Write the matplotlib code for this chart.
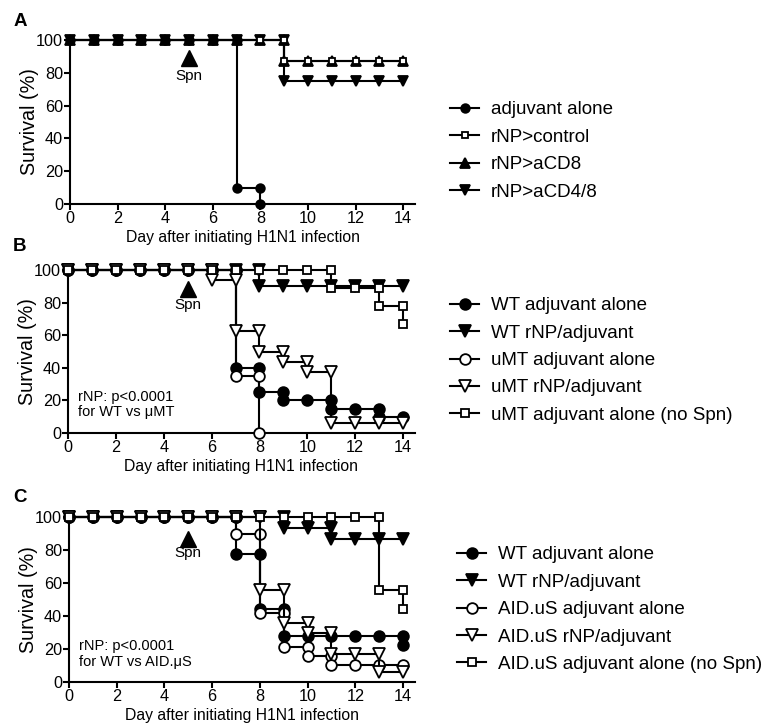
import matplotlib
matplotlib.use('Agg')
import matplotlib.pyplot as plt
from matplotlib.lines import Line2D

plt.rcParams['font.family'] = ['Liberation Sans', 'DejaVu Sans']

# ---------------- data (survival % at each day, day index = position) ----------------
xticks = [0, 2, 4, 6, 8, 10, 12, 14]
yticks = [0, 20, 40, 60, 80, 100]

# Panel A
a_labels = ['adjuvant alone', 'rNP>control', 'rNP>aCD8', 'rNP>aCD4/8']
a_adjuvant = [100, 100, 100, 100, 100, 100, 100, 10, 0]
a_control = [100, 100, 100, 100, 100, 100, 100, 100, 100, 87.5, 87.5, 87.5, 87.5, 87.5, 87.5]
a_cd8 = [100, 100, 100, 100, 100, 100, 100, 100, 100, 87.5, 87.5, 87.5, 87.5, 87.5, 87.5]
a_cd48 = [100, 100, 100, 100, 100, 100, 100, 100, 100, 75, 75, 75, 75, 75, 75]

# Panel B
b_labels = ['WT adjuvant alone', 'WT rNP/adjuvant', 'uMT adjuvant alone',
            'uMT rNP/adjuvant', 'uMT adjuvant alone (no Spn)']
b_wt_adj = [100, 100, 100, 100, 100, 100, 100, 40, 25, 20, 20, 15, 15, 10, 10]
b_wt_rnp = [100, 100, 100, 100, 100, 100, 100, 100, 90, 90, 90, 90, 90, 90, 90]
b_umt_adj = [100, 100, 100, 100, 100, 100, 100, 35, 0]
b_umt_rnp = [100, 100, 100, 100, 100, 100, 93.75, 62.5, 50, 43.75, 37.5, 6.25, 6.25, 6.25, 6.25]
b_umt_nospn = [100, 100, 100, 100, 100, 100, 100, 100, 100, 100, 100, 88.9, 88.9, 77.8, 66.7]

# Panel C
c_labels = ['WT adjuvant alone', 'WT rNP/adjuvant', 'AID.uS adjuvant alone',
            'AID.uS rNP/adjuvant', 'AID.uS adjuvant alone (no Spn)']
c_wt_adj = [100, 100, 100, 100, 100, 100, 100, 77.8, 44.4, 27.8, 27.8, 27.8, 27.8, 27.8, 22.2]
c_wt_rnp = [100, 100, 100, 100, 100, 100, 100, 100, 100, 93.3, 93.3, 86.7, 86.7, 86.7, 86.7]
c_aid_adj = [100, 100, 100, 100, 100, 100, 100, 89.5, 42.1, 21.1, 15.8, 10.5, 10.5, 10.5, 10.5]
c_aid_rnp = [100, 100, 100, 100, 100, 100, 100, 100, 56, 36, 30, 17, 17, 6, 6]
c_aid_nospn = [100, 100, 100, 100, 100, 100, 100, 100, 100, 100, 100, 100, 100, 55.6, 44.4]

b_note = 'rNP: p<0.0001\nfor WT vs μMT'
c_note = 'rNP: p<0.0001\nfor WT vs AID.μS'
xlabel = 'Day after initiating H1N1 infection'
ylabel = 'Survival (%)'


def step_path(vals):
    """Kaplan-Meier style path: a vertical drop at each day where survival changes."""
    xs, ys = [0], [vals[0]]
    for d in range(1, len(vals)):
        if vals[d] != vals[d - 1]:
            xs.append(d)
            ys.append(vals[d - 1])
        xs.append(d)
        ys.append(vals[d])
    return xs, ys


W, H = 766, 724
fig = plt.figure(figsize=(W / 100, H / 100), dpi=100)

LW = 1.5


def make_axes(top, bottom, left=70, right=415):
    return fig.add_axes([left / W, 1 - bottom / H, (right - left) / W, (bottom - top) / H])


def style_axes(ax):
    ax.set_xlim(0, 14.5)
    ax.set_ylim(0, 100)
    ax.set_xticks(xticks)
    ax.set_yticks(yticks)
    for s in ['top', 'right']:
        ax.spines[s].set_visible(False)
    for s in ['left', 'bottom']:
        ax.spines[s].set_linewidth(1.5)
    ax.tick_params(direction='out', length=4, width=1.5, labelsize=11.7, pad=1)
    ax.set_xlabel(xlabel, fontsize=11.3, labelpad=3)
    ax.set_ylabel(ylabel, fontsize=14.2, labelpad=-2)


def draw(ax, vals, marker, ms, face, z):
    xs, ys = step_path(vals)
    ax.plot(xs, ys, color='black', lw=LW, marker=marker, ms=ms, mfc=face,
            mec='black', mew=1.3, clip_on=False, zorder=z)
    return Line2D([], [], color='black', lw=LW, marker=marker, ms=ms, mfc=face,
                  mec='black', mew=1.3)


def spn(ax, ytri, ytxt):
    ax.plot([5], [ytri], marker='^', ms=11, color='black', zorder=10, clip_on=False)
    ax.text(5, ytxt, 'Spn', ha='center', va='center', fontsize=11)


def legend(ax, handles, labels, ycenter, xleft=450):
    ax.legend(handles, labels, loc='center left',
              bbox_to_anchor=(xleft / W, 1 - ycenter / H), bbox_transform=fig.transFigure,
              frameon=False, fontsize=13.5, handlelength=1.55, handletextpad=0.62,
              labelspacing=0.55, borderpad=0, borderaxespad=0)


# ---------------- Panel A ----------------
axA = make_axes(40, 204)
style_axes(axA)
hA_cd8 = draw(axA, a_cd8, '^', 6.5, 'black', 3)
hA_cd48 = draw(axA, a_cd48, 'v', 6.5, 'black', 4)
hA_ctrl = draw(axA, a_control, 's', 4.8, 'white', 5)
hA_adj = draw(axA, a_adjuvant, 'o', 6.2, 'black', 6)
spn(axA, 89, 78)
legend(axA, [hA_adj, hA_ctrl, hA_cd8, hA_cd48], a_labels, 151)
fig.text(14 / W, 1 - 21 / H, 'A', fontsize=13.5, fontweight='bold', ha='left', va='center')

# ---------------- Panel B ----------------
axB = make_axes(270, 433, left=68)
style_axes(axB)
hB1 = draw(axB, b_wt_adj, 'o', 7.7, 'black', 3)
hB2 = draw(axB, b_wt_rnp, 'v', 8, 'black', 4)
hB3 = draw(axB, b_umt_adj, 'o', 7.7, 'white', 5)
hB4 = draw(axB, b_umt_rnp, 'v', 8, 'white', 6)
hB5 = draw(axB, b_umt_nospn, 's', 5.6, 'white', 7)
spn(axB, 88.5, 78.5)
axB.text(0.4, 17.5, b_note, ha='left', va='center', fontsize=10.5, linespacing=1.15)
legend(axB, [hB1, hB2, hB3, hB4, hB5], b_labels, 360.5)
fig.text(13 / W, 1 - 247 / H, 'B', fontsize=13.5, fontweight='bold', ha='left', va='center')

# ---------------- Panel C ----------------
axC = make_axes(517, 682, left=69)
style_axes(axC)
hC1 = draw(axC, c_wt_adj, 'o', 7.7, 'black', 3)
hC2 = draw(axC, c_wt_rnp, 'v', 8, 'black', 4)
hC3 = draw(axC, c_aid_adj, 'o', 7.7, 'white', 5)
hC4 = draw(axC, c_aid_rnp, 'v', 8, 'white', 6)
hC5 = draw(axC, c_aid_nospn, 's', 5.6, 'white', 7)
spn(axC, 86.5, 78)
axC.text(0.4, 17, c_note, ha='left', va='center', fontsize=10.5, linespacing=1.15)
legend(axC, [hC1, hC2, hC3, hC4, hC5], c_labels, 609.5, xleft=457)
fig.text(13 / W, 1 - 497 / H, 'C', fontsize=13.5, fontweight='bold', ha='left', va='center')

fig.savefig('out.png', dpi=100)
